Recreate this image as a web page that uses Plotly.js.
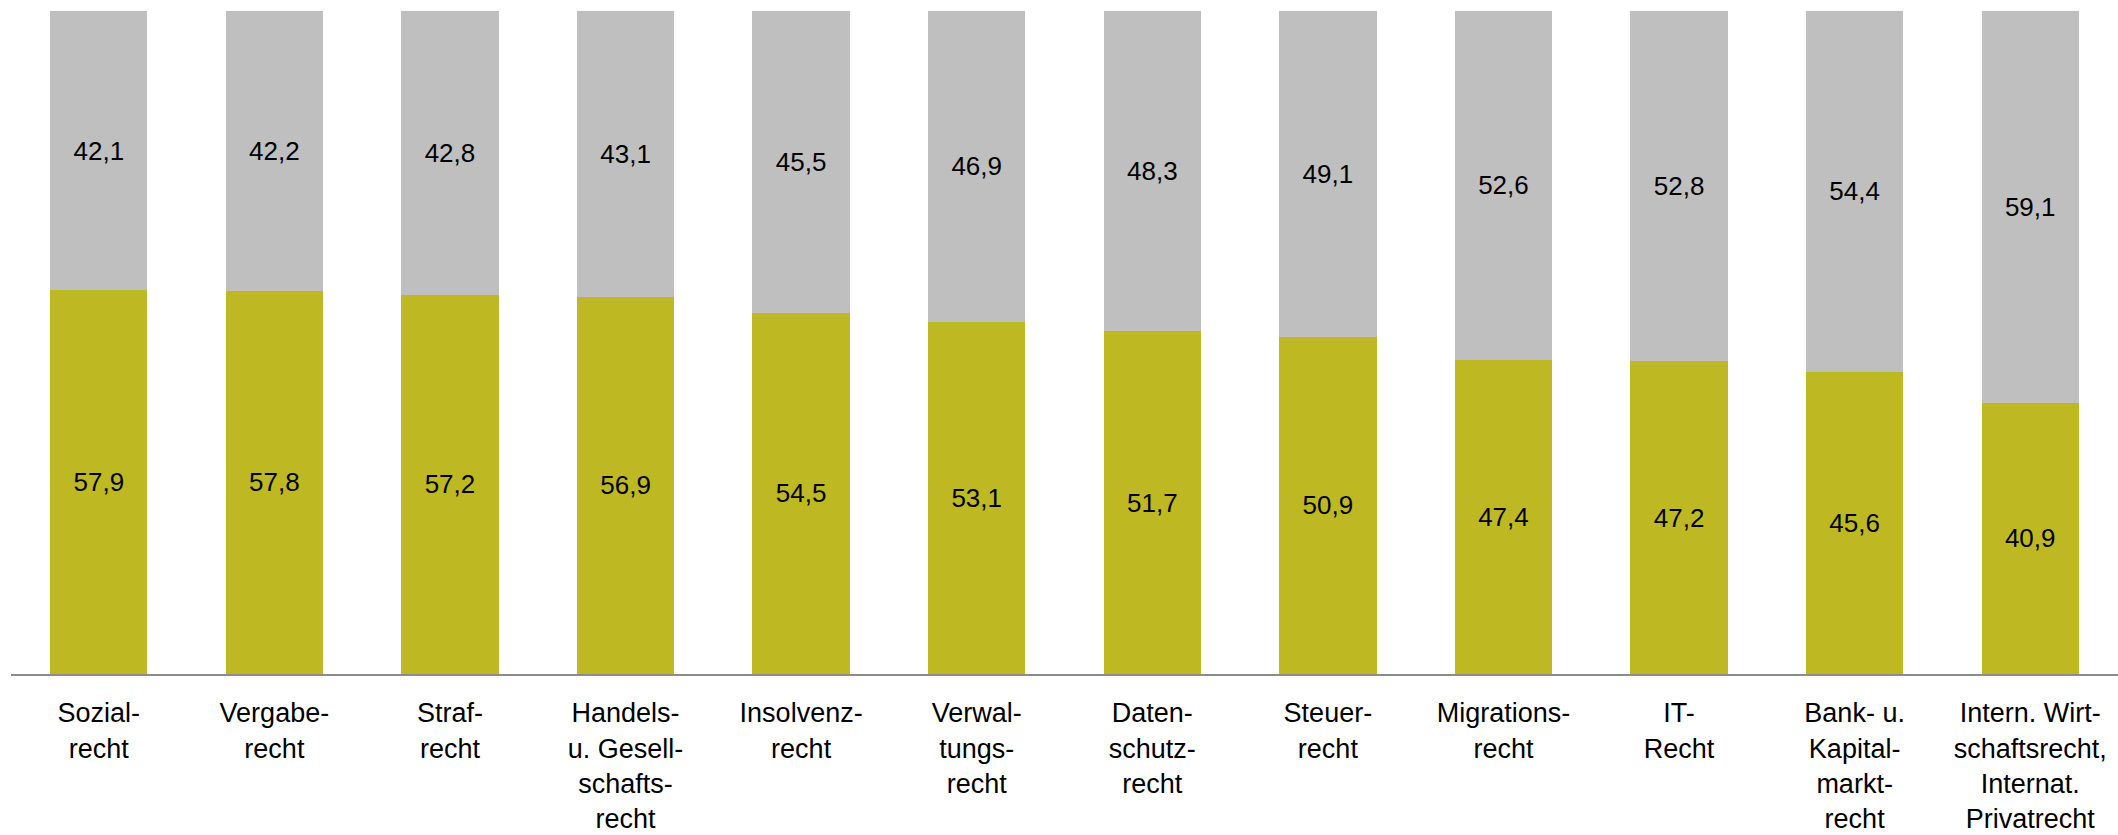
<!DOCTYPE html>
<html>
<head>
<meta charset="utf-8">
<script src="https://cdn.plot.ly/plotly-3.0.1.min.js"></script>
<style>html,body{margin:0;padding:0;background:#fff;}#chart{width:2118px;height:835px;}</style>
</head>
<body>
<div id="chart"></div>
<script>
const categories = ["Sozialrecht","Vergaberecht","Strafrecht","Handels- u. Gesellschaftsrecht","Insolvenzrecht","Verwaltungsrecht","Datenschutzrecht","Steuerrecht","Migrationsrecht","IT-Recht","Bank- u. Kapitalmarktrecht","Intern. Wirtschaftsrecht, Internat. Privatrecht"];
const tickLabels = ["Sozial-<br>recht","Vergabe-<br>recht","Straf-<br>recht","Handels-<br>u. Gesell-<br>schafts-<br>recht","Insolvenz-<br>recht","Verwal-<br>tungs-<br>recht","Daten-<br>schutz-<br>recht","Steuer-<br>recht","Migrations-<br>recht","IT-<br>Recht","Bank- u.<br>Kapital-<br>markt-<br>recht","Intern. Wirt-<br>schaftsrecht,<br>Internat.<br>Privatrecht"];
const lowerValues = [57.9,57.8,57.2,56.9,54.5,53.1,51.7,50.9,47.4,47.2,45.6,40.9];
const upperValues = [42.1,42.2,42.8,43.1,45.5,46.9,48.3,49.1,52.6,52.8,54.4,59.1];

const common = {
  type: 'bar',
  x: categories,
  texttemplate: '%{y:.1f}',
  textposition: 'inside',
  insidetextanchor: 'middle',
  textangle: 0,
  textfont: {family: 'Liberation Sans, Arial, sans-serif', size: 26, color: '#000'},
  hoverinfo: 'none',
  showlegend: false
};

const data = [
  Object.assign({}, common, {y: lowerValues, marker: {color: '#BEB923', line: {width: 0}}}),
  Object.assign({}, common, {y: upperValues, marker: {color: '#BFBFBF', line: {width: 0}}})
];

const layout = {
  width: 2118, height: 835,
  margin: {l: 11, r: 0, t: 11, b: 161},
  barmode: 'stack',
  bargap: 0.446,
  separators: ',.',
  paper_bgcolor: '#fff', plot_bgcolor: '#fff',
  xaxis: {
    type: 'category',
    tickmode: 'array',
    tickvals: categories,
    ticktext: tickLabels,
    showline: true, linecolor: '#8c8c8c', linewidth: 2,
    ticks: '', showgrid: false, zeroline: false,
    ticklabelstandoff: 14,
    tickangle: 0,
    tickfont: {family: 'Liberation Sans Narrow, Arial Narrow, sans-serif', size: 27, color: '#000'}
  },
  yaxis: {
    range: [0, 100], visible: false, showgrid: false, zeroline: false, fixedrange: true
  },
  font: {family: 'Liberation Sans, Arial, sans-serif'}
};

Plotly.newPlot('chart', data, layout, {displayModeBar: false, staticPlot: true});
</script>
</body>
</html>
